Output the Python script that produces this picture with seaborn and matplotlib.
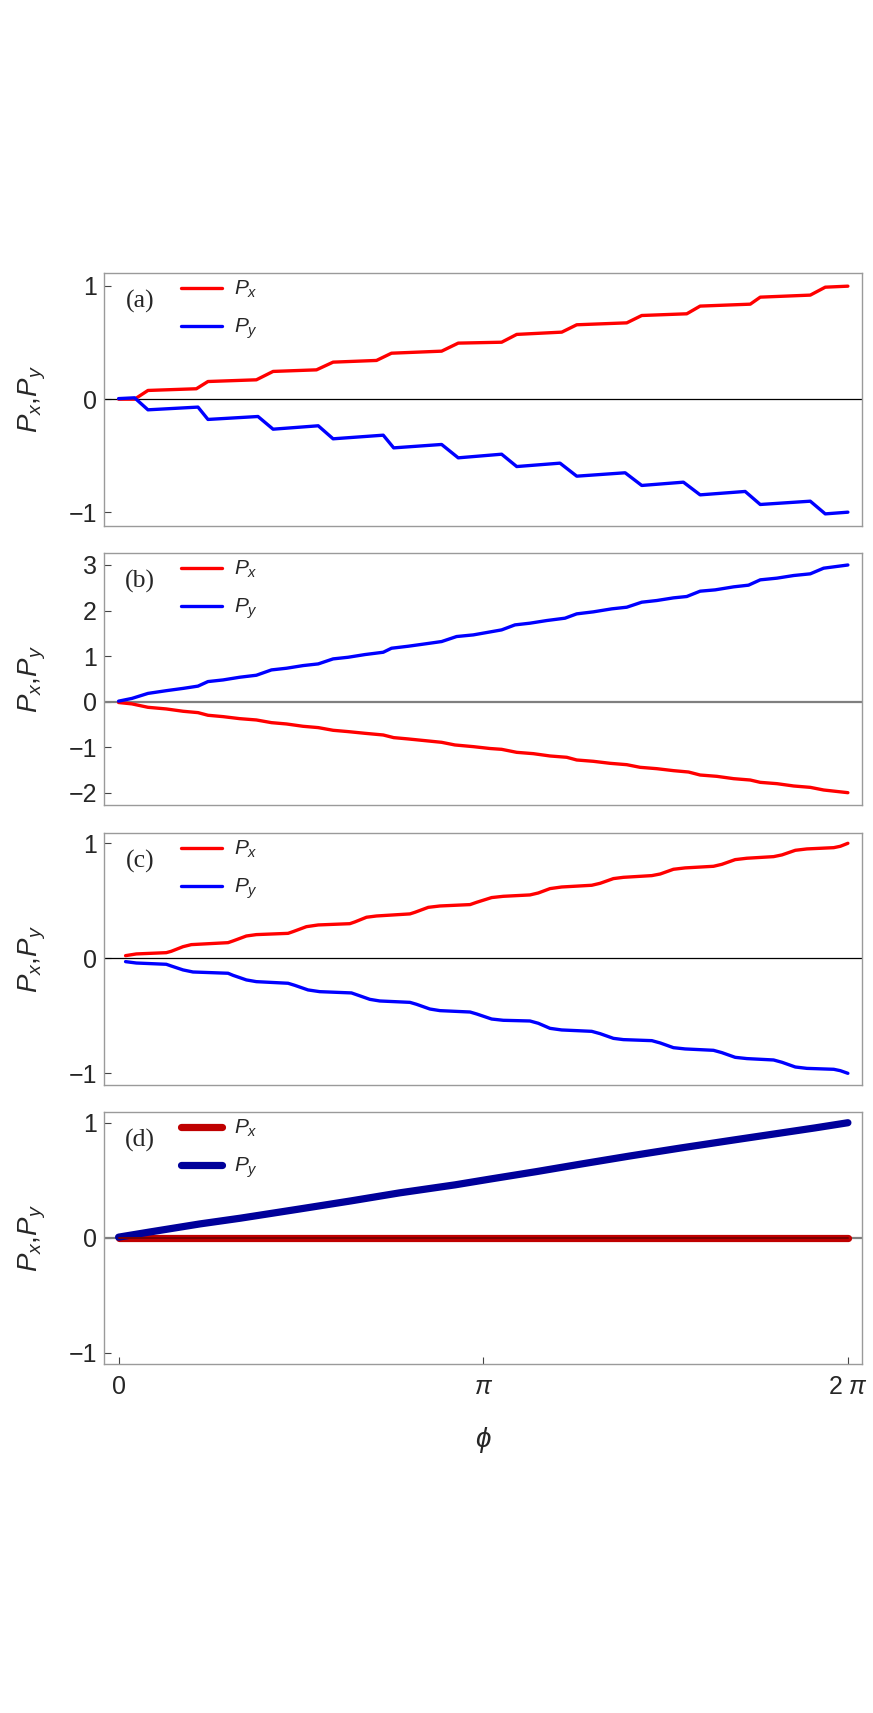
import numpy as np
import pandas as pd
import matplotlib
matplotlib.use("Agg")
import matplotlib.pyplot as plt
import seaborn as sns

# ---------------- data ----------------
# panel (a)
phi_a_px = [0.0, 0.138, 0.253, 0.670, 0.770, 1.187, 1.331, 1.705, 1.848, 2.222, 2.351, 2.783, 2.926,
            3.300, 3.430, 3.818, 3.947, 4.378, 4.507, 4.895, 5.010, 5.442, 5.528, 5.959, 6.088, 6.283]
px_a = [0.0, 0.0, 0.077, 0.092, 0.156, 0.171, 0.245, 0.259, 0.327, 0.342, 0.406, 0.424, 0.495,
        0.503, 0.572, 0.592, 0.657, 0.674, 0.739, 0.754, 0.822, 0.839, 0.901, 0.919, 0.989, 0.998]
phi_a_py = [0.0, 0.138, 0.253, 0.684, 0.770, 1.201, 1.331, 1.720, 1.848, 2.280, 2.370, 2.783, 2.926,
            3.300, 3.430, 3.803, 3.947, 4.364, 4.507, 4.866, 5.010, 5.398, 5.528, 5.959, 6.088, 6.283]
py_a = [0.005, 0.012, -0.094, -0.070, -0.179, -0.153, -0.265, -0.235, -0.350, -0.318, -0.430, -0.400, -0.518,
        -0.486, -0.595, -0.565, -0.680, -0.650, -0.762, -0.733, -0.845, -0.815, -0.930, -0.901, -1.013, -0.998]

# panel (b)
phi_b_px = [0.0, 0.115, 0.253, 0.411, 0.555, 0.684, 0.770, 0.900, 1.043, 1.187,
            1.317, 1.447, 1.589, 1.720, 1.848, 1.978, 2.122, 2.280, 2.370, 2.495,
            2.639, 2.783, 2.897, 3.056, 3.200, 3.300, 3.430, 3.573, 3.717, 3.861,
            3.947, 4.090, 4.234, 4.378, 4.493, 4.637, 4.780, 4.910, 5.010, 5.154,
            5.298, 5.442, 5.528, 5.672, 5.816, 5.959, 6.074, 6.283]
px_b = [-0.02, -0.05, -0.125, -0.161, -0.212, -0.242, -0.30, -0.33, -0.374, -0.403,
        -0.462, -0.491, -0.542, -0.571, -0.63, -0.659, -0.696, -0.733, -0.791, -0.82,
        -0.857, -0.894, -0.952, -0.989, -1.03, -1.048, -1.114, -1.143, -1.194, -1.223,
        -1.282, -1.311, -1.355, -1.385, -1.443, -1.473, -1.516, -1.546, -1.612, -1.641,
        -1.692, -1.722, -1.773, -1.802, -1.853, -1.883, -1.941, -2.0]
phi_b_py = [0.0, 0.115, 0.253, 0.411, 0.555, 0.684, 0.770, 0.900, 1.043, 1.187,
            1.317, 1.447, 1.589, 1.720, 1.848, 1.978, 2.122, 2.280, 2.351, 2.495,
            2.639, 2.783, 2.912, 3.056, 3.200, 3.300, 3.415, 3.544, 3.688, 3.846,
            3.947, 4.090, 4.249, 4.378, 4.507, 4.637, 4.780, 4.895, 5.010, 5.140,
            5.298, 5.427, 5.528, 5.672, 5.816, 5.959, 6.074, 6.283]
py_b = [0.01, 0.07, 0.18, 0.24, 0.29, 0.34, 0.44, 0.476, 0.535, 0.579,
        0.696, 0.733, 0.791, 0.828, 0.938, 0.974, 1.033, 1.084, 1.172, 1.216,
        1.267, 1.319, 1.429, 1.465, 1.530, 1.575, 1.685, 1.722, 1.780, 1.832,
        1.927, 1.971, 2.037, 2.073, 2.183, 2.220, 2.278, 2.308, 2.425, 2.454,
        2.520, 2.557, 2.674, 2.711, 2.769, 2.806, 2.930, 3.0]

# panel (c)
phi_c_px = [0.06, 0.153, 0.411, 0.454, 0.555, 0.627, 0.943, 0.986, 1.101, 1.187,
            1.46, 1.503, 1.618, 1.72, 1.992, 2.035, 2.136, 2.222, 2.51, 2.553,
            2.668, 2.769, 3.028, 3.085, 3.214, 3.314, 3.544, 3.616, 3.717, 3.817,
            4.076, 4.148, 4.263, 4.349, 4.594, 4.666, 4.78, 4.881, 5.125, 5.197,
            5.312, 5.413, 5.643, 5.715, 5.83, 5.93, 6.161, 6.218, 6.283]
px_c = [0.023, 0.038, 0.049, 0.061, 0.101, 0.119, 0.136, 0.151, 0.194, 0.206,
        0.217, 0.232, 0.275, 0.29, 0.301, 0.316, 0.357, 0.368, 0.386, 0.40,
        0.443, 0.455, 0.467, 0.487, 0.528, 0.539, 0.551, 0.568, 0.606, 0.62,
        0.635, 0.652, 0.693, 0.704, 0.719, 0.733, 0.774, 0.786, 0.80, 0.817,
        0.858, 0.87, 0.884, 0.899, 0.939, 0.951, 0.962, 0.974, 1.0]
phi_c_py = [0.06, 0.153, 0.411, 0.454, 0.555, 0.641, 0.943, 0.986, 1.101, 1.187,
            1.46, 1.518, 1.632, 1.733, 2.006, 2.049, 2.165, 2.25, 2.51, 2.567,
            2.682, 2.769, 3.028, 3.085, 3.214, 3.314, 3.544, 3.616, 3.717, 3.817,
            4.076, 4.148, 4.263, 4.349, 4.594, 4.666, 4.78, 4.881, 5.125, 5.197,
            5.312, 5.413, 5.643, 5.715, 5.83, 5.93, 6.161, 6.218, 6.283]
py_c = [-0.029, -0.041, -0.052, -0.067, -0.101, -0.119, -0.13, -0.148, -0.188, -0.203,
        -0.217, -0.235, -0.275, -0.29, -0.301, -0.316, -0.357, -0.371, -0.383, -0.40,
        -0.441, -0.455, -0.467, -0.484, -0.528, -0.539, -0.545, -0.565, -0.609, -0.623,
        -0.635, -0.655, -0.696, -0.707, -0.716, -0.736, -0.777, -0.788, -0.80, -0.82,
        -0.861, -0.872, -0.884, -0.904, -0.945, -0.957, -0.965, -0.977, -1.0]

# panel (d)
phi_d_px = [0.0, 6.283]
px_d = [0.0, 0.0]
phi_d_py = [0.0, 0.27, 0.70, 1.05, 1.56, 2.0, 2.42, 2.9, 3.2, 3.6, 3.98, 4.4, 4.84, 5.3, 5.7, 6.0, 6.283]
py_d = [0.005, 0.05, 0.12, 0.17, 0.25, 0.32, 0.39, 0.46, 0.51, 0.575, 0.64, 0.71, 0.78, 0.85, 0.91, 0.955, 1.0]

panel_labels = ["(a)", "(b)", "(c)", "(d)"]
yticks_a = [-1, 0, 1]
yticks_b = [-2, -1, 0, 1, 2, 3]
yticks_c = [-1, 0, 1]
yticks_d = [-1, 0, 1]
xtick_vals = [0, np.pi, 2 * np.pi]
xtick_labels = ["0", r"$\pi$", r"2 $\pi$"]

# ---------------- style ----------------
sns.set_theme(style="white")
plt.rcParams["font.family"] = ["Liberation Sans", "DejaVu Sans"]
plt.rcParams["mathtext.fontset"] = "custom"
plt.rcParams["mathtext.it"] = "Liberation Sans:italic"
plt.rcParams["mathtext.rm"] = "Liberation Sans"
plt.rcParams["mathtext.sf"] = "Liberation Sans"
plt.rcParams["mathtext.bf"] = "Liberation Sans:bold"

fig = plt.figure(figsize=(8.73, 17.13), dpi=100)

L, W = 0.11913, 0.86884
panels = [
    dict(bottom=0.69294, h=0.14787, phx=phi_a_px, px=px_a, phy=phi_a_py, py=py_a, ylim=(-1.12, 1.117),
         yt=yticks_a, red="#ff0000", blue="#0000ff", lw=2.4, zc="black", zlw=0.9),
    dict(bottom=0.52989, h=0.14746, phx=phi_b_px, px=px_b, phy=phi_b_py, py=py_b, ylim=(-2.277, 3.27),
         yt=yticks_b, red="#ff0000", blue="#0000ff", lw=2.4, zc="#7f7f7f", zlw=1.6),
    dict(bottom=0.36678, h=0.14711, phx=phi_c_px, px=px_c, phy=phi_c_py, py=py_c, ylim=(-1.099, 1.092),
         yt=yticks_c, red="#ff0000", blue="#0000ff", lw=2.4, zc="black", zlw=0.9),
    dict(bottom=0.20374, h=0.14729, phx=phi_d_px, px=px_d, phy=phi_d_py, py=py_d, ylim=(-1.098, 1.096),
         yt=yticks_d, red="#bf0000", blue="#00009a", lw=5.2, zc="#7f7f7f", zlw=1.6),
]

pad = 0.02 * 2 * np.pi
for i, p in enumerate(panels):
    ax = fig.add_axes([L, p["bottom"], W, p["h"]])
    ax.axhline(0, color=p["zc"], lw=p["zlw"], zorder=1)
    sns.lineplot(x=p["phx"], y=p["px"], ax=ax, color=p["red"], lw=p["lw"], label=r"$P_x$",
                 sort=False, estimator=None, zorder=3)
    sns.lineplot(x=p["phy"], y=p["py"], ax=ax, color=p["blue"], lw=p["lw"], label=r"$P_y$",
                 sort=False, estimator=None, zorder=3)
    if i == 3:
        # darker core where the zero axis passes under the P_x line
        ax.axhline(0, xmin=0.02 / 1.04, xmax=1.02 / 1.04, color="#7a0000", lw=1.4, zorder=4)
    ax.set_xlim(-pad, 2 * np.pi + pad)
    ax.set_ylim(*p["ylim"])
    ax.set_yticks(p["yt"])
    ax.set_yticklabels([("−" + str(-v)) if v < 0 else str(v) for v in p["yt"]])
    for s in ax.spines.values():
        s.set_color("#9a9a9a")
        s.set_linewidth(1.0)
    ax.tick_params(axis="y", which="both", left=True, direction="in", length=5, width=0.8,
                   color="#444444", labelsize=18, pad=5)
    if i < 3:
        ax.tick_params(axis="x", bottom=False, labelbottom=False)
        ax.set_xlabel("")
    else:
        ax.set_xticks(xtick_vals)
        ax.set_xticklabels(xtick_labels)
        ax.tick_params(axis="x", bottom=True, direction="in", length=5, width=0.8,
                       color="#444444", labelsize=18, pad=8)
        ax.set_xlabel(r"$\phi$", fontsize=20, labelpad=19)
    ax.set_ylabel(r"$P_x$,$P_y$", fontsize=20)
    ax.yaxis.set_label_coords(-0.074, 0.5)
    ax.text(0.0475, 0.885, panel_labels[i], transform=ax.transAxes, family="Liberation Serif",
            fontsize=18.5, ha="center", va="center")
    ax.legend(loc="upper left", bbox_to_anchor=(0.101, 0.975), frameon=False, fontsize=15,
              handlelength=2.0, handletextpad=0.56, labelspacing=0.8, borderpad=0, borderaxespad=0)

fig.savefig("out.png", dpi=100)
